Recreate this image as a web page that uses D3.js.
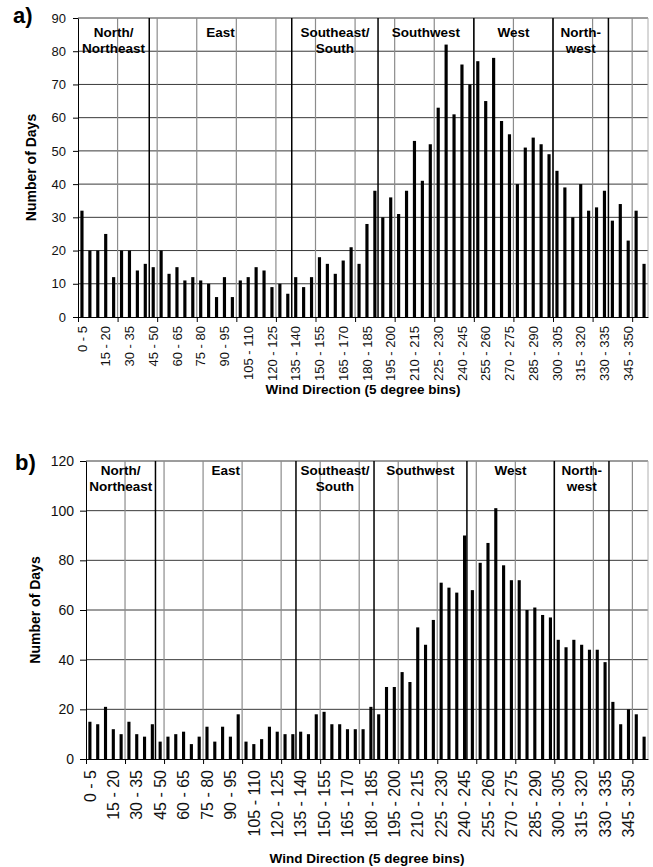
<!DOCTYPE html>
<html>
<head>
<meta charset="utf-8">
<script src="https://cdn.jsdelivr.net/npm/d3@7"></script>
<style>
body { margin: 0; background: #fff; }
svg { display: block; font-family: "Liberation Sans", Arial, sans-serif; }
</style>
</head>
<body>
<svg id="chart"></svg>
<script>
// 5 degree wind direction bins
const bins = d3.range(0, 360, 5);
const binLabels = bins.map(d => `${d} - ${d + 5}`);

const daysA = [32, 20, 20, 25, 12, 20, 20, 14, 16, 15, 20, 13, 15, 11, 12, 11, 10, 6, 12, 6,
  11, 12, 15, 14, 9, 10, 7, 12, 9, 12, 18, 16, 13, 17, 21, 16, 28, 38, 30, 36,
  31, 38, 53, 41, 52, 63, 82, 61, 76, 70, 77, 65, 78, 59, 55, 40, 51, 54, 52, 49,
  44, 39, 30, 40, 32, 33, 38, 29, 34, 23, 32, 16];

const daysB = [15, 14, 21, 12, 10, 15, 10, 9, 14, 7, 9, 10, 11, 6, 9, 13, 7, 13, 9, 18,
  7, 6, 8, 13, 11, 10, 10, 11, 10, 18, 19, 14, 14, 12, 12, 12, 21, 18, 29, 29,
  35, 31, 53, 46, 56, 71, 69, 67, 90, 68, 79, 87, 101, 78, 72, 72, 60, 61, 58, 57,
  48, 45, 48, 46, 44, 44, 39, 23, 14, 20, 18, 9];

const regionNames = [['North/', 'Northeast'], ['East'], ['Southeast/', 'South'], ['Southwest'], ['West'], ['North-', 'west']];
const boundsA = [45, 135, 189.5, 250, 300, 335];
const boundsB = [44.5, 134.5, 184.5, 244, 300, 335];

const yTicksA = d3.range(0, 91, 10);
const yTicksB = d3.range(0, 121, 20);
const gridDeg = d3.range(25, 360, 25);

class WindChart {
constructor(config, values, bounds, yticks) {
    this.config = config;
    this.values = values;
    this.bounds = bounds;
    this.yticks = yticks;
    this.init();
}

init() {
    let self = this;
    const c = self.config;
    self.g = d3.select('#chart').append('g');

    self.xdeg = d3.scaleLinear().domain([0, 360]).range([c.left, c.right]);
    self.xband = d3.scaleBand().domain(binLabels).range([c.left, c.right])
        .paddingInner(0.6).paddingOuter(0.3);
    self.yscale = d3.scaleLinear().domain([0, d3.max(self.yticks)]).range([c.bottom, c.top]);

    // horizontal grid
    self.g.append('g').selectAll('line')
        .data(self.yticks.filter(d => d > 0))
        .join('line')
        .attr('x1', c.left).attr('x2', c.right)
        .attr('y1', d => self.yscale(d)).attr('y2', d => self.yscale(d))
        .attr('stroke', '#3a3a3a').attr('stroke-width', 1);

    // vertical grid every 25 degrees
    self.g.append('g').selectAll('line')
        .data(gridDeg)
        .join('line')
        .attr('x1', d => self.xdeg(d)).attr('x2', d => self.xdeg(d))
        .attr('y1', c.top).attr('y2', c.bottom)
        .attr('stroke', '#8c8c8c').attr('stroke-width', 1.2);

    self.g.append('line')
        .attr('x1', c.right).attr('x2', c.right)
        .attr('y1', c.top).attr('y2', c.bottom)
        .attr('stroke', '#b0b0b0');

    // region boundaries
    self.g.append('g').selectAll('line')
        .data(self.bounds)
        .join('line')
        .attr('x1', d => self.xdeg(d)).attr('x2', d => self.xdeg(d))
        .attr('y1', c.top).attr('y2', c.bottom)
        .attr('stroke', '#000').attr('stroke-width', 1.5);

    // bars
    self.g.append('g').selectAll('rect')
        .data(self.values)
        .join('rect')
        .attr('x', (d, i) => self.xband(binLabels[i]))
        .attr('y', d => self.yscale(d))
        .attr('width', self.xband.bandwidth())
        .attr('height', d => c.bottom - self.yscale(d))
        .attr('fill', '#000');

    // region labels, centred in each sector
    const edges = [0].concat(self.bounds);
    const regions = regionNames.map((name, i) => ({name, mid: (edges[i] + edges[i + 1]) / 2}));
    self.g.append('g').selectAll('text')
        .data(regions)
        .join('text')
        .attr('x', d => self.xdeg(d.mid))
        .attr('y', c.top + c.labelDy)
        .attr('text-anchor', 'middle')
        .style('font-size', '13.5px')
        .style('font-weight', 'bold')
        .selectAll('tspan')
        .data(d => d.name.map(t => ({t, x: self.xdeg(d.mid)})))
        .join('tspan')
        .attr('x', d => d.x)
        .attr('dy', (d, i) => i ? 16 : 0)
        .text(d => d.t);

    // y axis
    const yaxis = d3.axisLeft(self.yscale).tickValues(self.yticks)
        .tickSize(c.ytick).tickPadding(c.ypad).tickSizeOuter(0);
    self.g.append('g')
        .attr('transform', `translate(${c.left},0)`)
        .call(yaxis)
        .call(g => g.select('.domain').attr('stroke', '#000'))
        .call(g => g.selectAll('text').style('font-size', c.yfont + 'px')
            .style('font-family', '"Liberation Sans", Arial, sans-serif').attr('fill', '#111'));

    // x axis ticks every 25 degrees
    const xaxis = d3.axisBottom(self.xdeg).tickValues([0].concat(gridDeg))
        .tickSize(5).tickSizeOuter(0).tickFormat('');
    self.g.append('g')
        .attr('transform', `translate(0,${c.bottom})`)
        .call(xaxis)
        .call(g => g.select('.domain').attr('stroke', '#000'));

    // bin labels, every third bin
    self.g.append('g').selectAll('text')
        .data(binLabels.filter((d, i) => i % 3 == 0))
        .join('text')
        .attr('transform', d => `translate(${self.xband(d) + self.xband.bandwidth() / 2 + c.xfont * 0.36},${c.bottom + c.xlabGap}) rotate(-90)`)
        .attr('text-anchor', 'end')
        .style('font-size', c.xfont + 'px')
        .attr('fill', '#111')
        .text(d => d);

    // titles
    self.g.append('text')
        .attr('x', (c.left + c.right) / 2)
        .attr('y', c.xtitleY)
        .attr('text-anchor', 'middle')
        .style('font-size', '13.5px')
        .style('font-weight', 'bold')
        .text('Wind Direction (5 degree bins)');

    self.g.append('text')
        .attr('transform', `translate(${c.ytitleX},${(c.top + c.bottom) / 2}) rotate(-90)`)
        .attr('text-anchor', 'middle')
        .style('font-size', '14px')
        .style('font-weight', 'bold')
        .text('Number of Days');

    self.g.append('text')
        .attr('x', c.tagX).attr('y', c.tagY)
        .style('font-size', '22px')
        .style('font-weight', 'bold')
        .text(c.tag);
}
}

d3.select('#chart').attr('width', 653).attr('height', 867);

new WindChart({left: 78, right: 648, top: 18, bottom: 317, labelDy: 19, ytick: 5, ypad: 7, yfont: 13,
    xfont: 13, xlabGap: 9, xtitleY: 394, ytitleX: 36, tag: 'a)', tagX: 13, tagY: 23},
    daysA, boundsA, yTicksA);

new WindChart({left: 86, right: 648, top: 461, bottom: 759, labelDy: 14, ytick: 6, ypad: 6, yfont: 14,
    xfont: 16, xlabGap: 11, xtitleY: 863, ytitleX: 40, tag: 'b)', tagX: 15, tagY: 470},
    daysB, boundsB, yTicksB);
</script>
</body>
</html>
